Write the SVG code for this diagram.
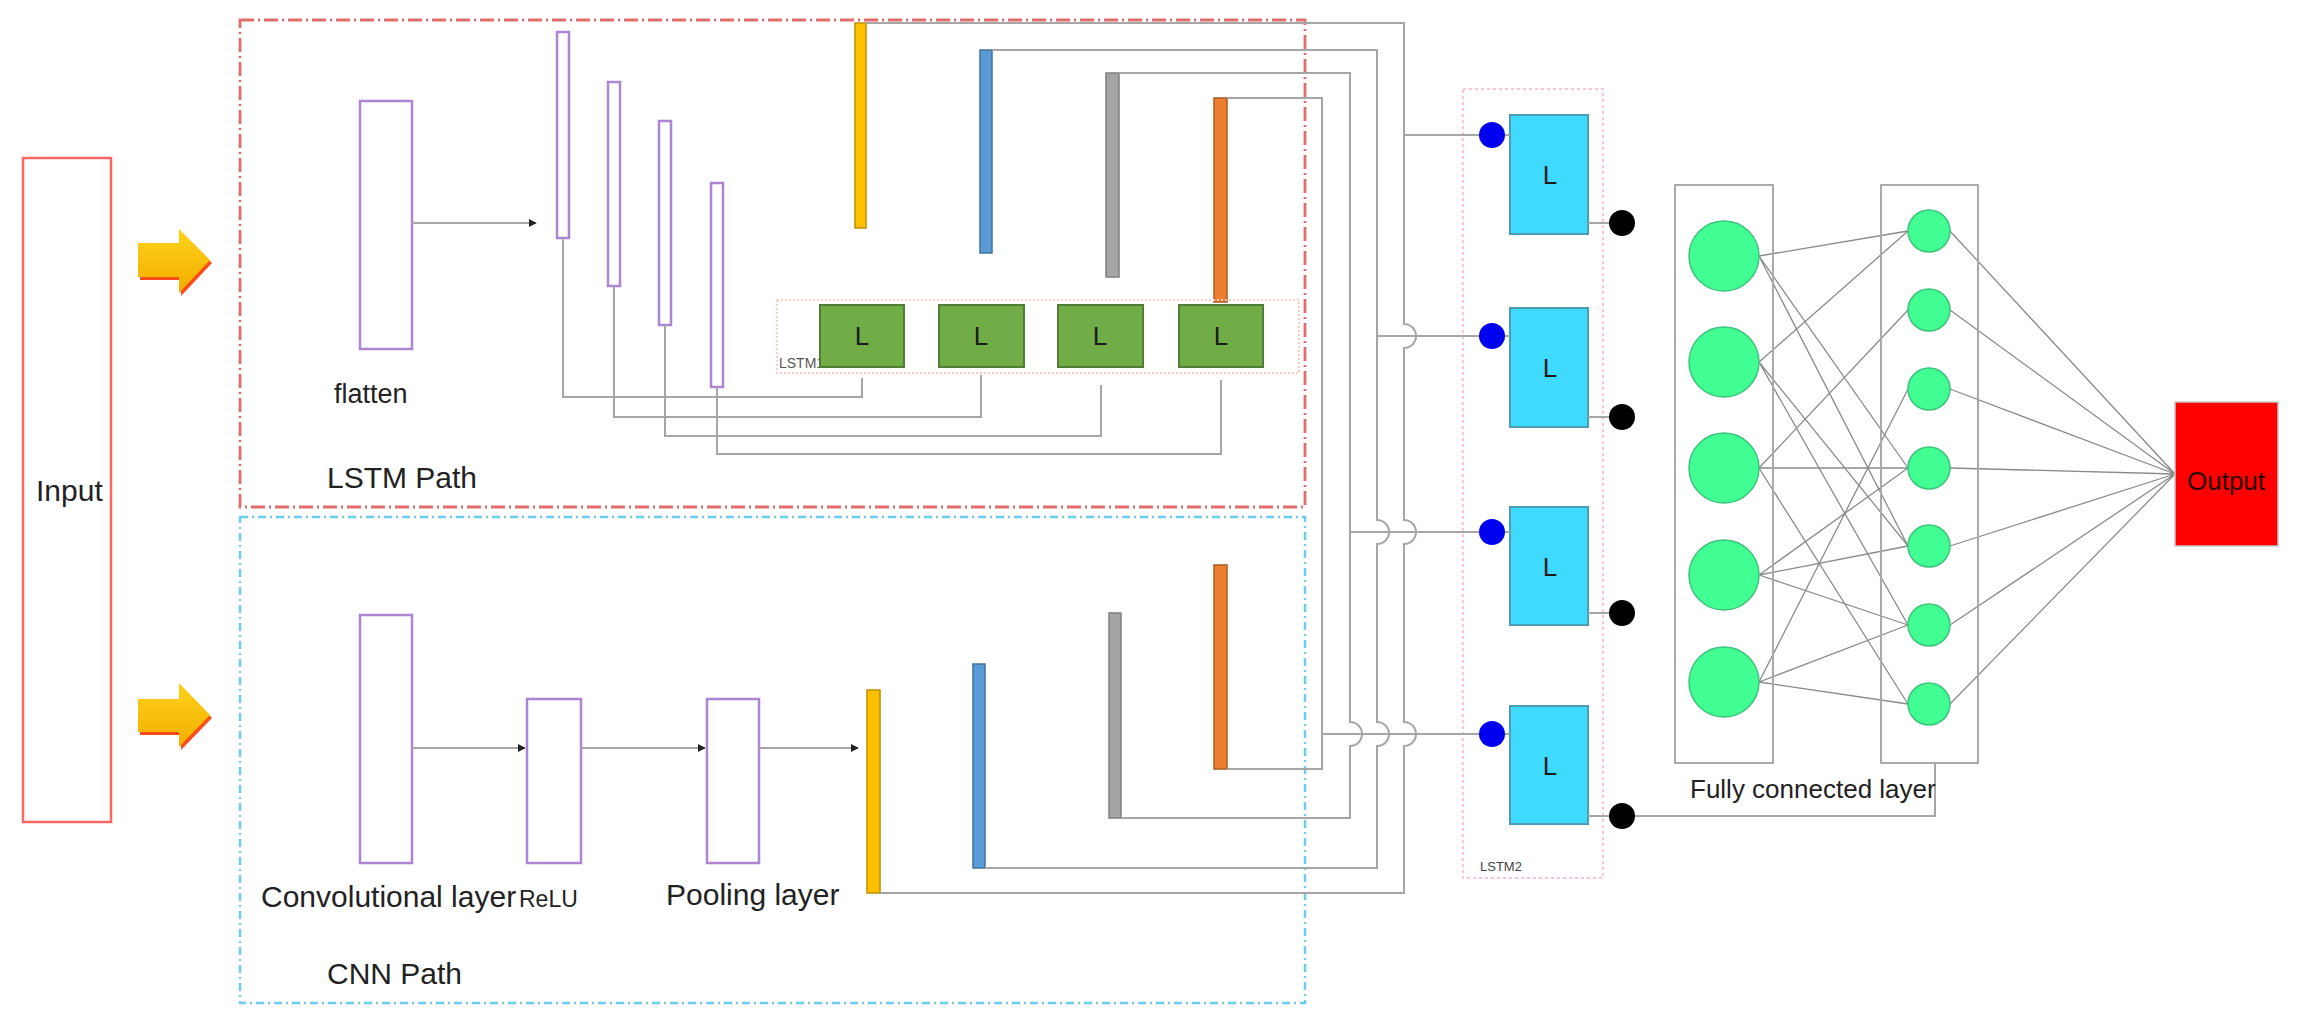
<svg xmlns="http://www.w3.org/2000/svg" width="2298" height="1023" viewBox="0 0 2298 1023">
<defs>
<linearGradient id="gArrow" x1="0" y1="0" x2="0" y2="1">
<stop offset="0" stop-color="#FFD21A"/>
<stop offset="1" stop-color="#F2AE00"/>
</linearGradient>
<marker id="ah" viewBox="0 0 10 10" refX="9" refY="5" markerWidth="4" markerHeight="4" orient="auto">
<path d="M0,0 L10,5 L0,10 z" fill="#222"/>
</marker>
<style>
text{font-family:"Liberation Sans",Arial,sans-serif;fill:#222}
.lbl{font-size:30px}
.conn{fill:none;stroke:#A6A6A6;stroke-width:2}
.fc{fill:none;stroke:#8A8A8A;stroke-width:1.3}
.purple{fill:#fff;stroke:#AD85D3;stroke-width:2.5}
.green{fill:#70AD47;stroke:#507E32;stroke-width:2}
.cyan{fill:#3FDAFF;stroke:#4A9DB5;stroke-width:2}
.big{fill:#42FF93;stroke:#3CC47C;stroke-width:1.5}
.small{fill:#42FF93;stroke:#3CC47C;stroke-width:1.5}
.fcbox{fill:none;stroke:#AAAAAA;stroke-width:2}
.L{font-size:26px;text-anchor:middle;fill:#1a1a1a}
</style>
</defs>
<rect width="2298" height="1023" fill="#fff"/>

<!-- path frames -->
<g id="lstm-path-frame">
<rect x="240" y="20" width="1065" height="487" fill="none" stroke="#E36C6C" stroke-width="2.8" stroke-dasharray="14,4,2,4"/>
<text class="lbl" x="327" y="488">LSTM Path</text>
</g>
<g id="cnn-path-frame">
<rect x="240" y="517" width="1065" height="486" fill="none" stroke="#6CCDF0" stroke-width="2.5" stroke-dasharray="8,4,2,4"/>
<text class="lbl" x="327" y="984">CNN Path</text>
</g>

<!-- Input -->
<g id="input">
<rect x="23" y="158" width="88" height="664" fill="#fff" stroke="#FF6666" stroke-width="2.5"/>
<text class="lbl" x="36" y="501">Input</text>
</g>

<!-- arrows -->
<g id="arrow-top">
<path d="M140,246 H181 V232 L212,263 L181,296 V280 H140 z" fill="#FF4A1A"/>
<path d="M138,243 H179 V229 L210,260 L179,293 V277 H138 z" fill="url(#gArrow)"/>
</g>
<g id="arrow-bottom">
<path d="M140,702 H181 V686 L212,718 L181,750 V735 H140 z" fill="#FF4A1A"/>
<path d="M138,699 H179 V683 L210,715 L179,747 V732 H138 z" fill="url(#gArrow)"/>
</g>

<!-- LSTM path nodes -->
<g id="flatten">
<rect class="purple" x="360" y="101" width="52" height="248"/>
<text x="334" y="403" style="font-size:27px">flatten</text>
</g>
<g id="lstm-bar1"><rect class="purple" x="557" y="32" width="12" height="206"/></g>
<g id="lstm-bar2"><rect class="purple" x="608" y="82" width="12" height="204"/></g>
<g id="lstm-bar3"><rect class="purple" x="659" y="121" width="12" height="204"/></g>
<g id="lstm-bar4"><rect class="purple" x="711" y="183" width="12" height="204"/></g>

<g id="lstm-yellow"><rect x="855" y="23" width="11" height="205" fill="#FFC000" stroke="#BF9000" stroke-width="1.5"/></g>
<g id="lstm-blue"><rect x="980" y="50" width="12" height="203" fill="#5B9BD5" stroke="#41719C" stroke-width="1.5"/></g>
<g id="lstm-gray"><rect x="1106" y="73" width="13" height="204" fill="#A5A5A5" stroke="#7F7F7F" stroke-width="1.5"/></g>
<g id="lstm-orange"><rect x="1214" y="98" width="13" height="204" fill="#ED7D31" stroke="#AE5A21" stroke-width="1.5"/></g>

<g id="lstm1">
<rect x="777" y="300" width="522" height="73" fill="none" stroke="#FFCDBD" stroke-width="2" stroke-dasharray="2,2"/>
<text x="779" y="368" style="font-size:14px;fill:#555">LSTM1</text>
<rect class="green" x="820" y="305" width="84" height="62"/>
<text class="L" x="862" y="345">L</text>
<rect class="green" x="939" y="305" width="85" height="62"/>
<text class="L" x="981" y="345">L</text>
<rect class="green" x="1058" y="305" width="85" height="62"/>
<text class="L" x="1100" y="345">L</text>
<rect class="green" x="1179" y="305" width="84" height="62"/>
<text class="L" x="1221" y="345">L</text>
</g>

<!-- CNN path nodes -->
<g id="conv">
<rect class="purple" x="360" y="615" width="52" height="248"/>
<text class="lbl" x="261" y="907">Convolutional layer</text>
</g>
<g id="relu">
<rect class="purple" x="527" y="699" width="54" height="164"/>
<text x="519" y="907" style="font-size:23px">ReLU</text>
</g>
<g id="pooling">
<rect class="purple" x="707" y="699" width="52" height="164"/>
<text class="lbl" x="666" y="905">Pooling layer</text>
</g>
<g id="cnn-yellow"><rect x="867" y="690" width="13" height="203" fill="#FFC000" stroke="#BF9000" stroke-width="1.5"/></g>
<g id="cnn-blue"><rect x="973" y="664" width="12" height="204" fill="#5B9BD5" stroke="#41719C" stroke-width="1.5"/></g>
<g id="cnn-gray"><rect x="1109" y="613" width="12" height="205" fill="#A5A5A5" stroke="#7F7F7F" stroke-width="1.5"/></g>
<g id="cnn-orange"><rect x="1214" y="565" width="13" height="204" fill="#ED7D31" stroke="#AE5A21" stroke-width="1.5"/></g>

<!-- LSTM2 -->
<g id="lstm2">
<rect x="1463" y="89" width="140" height="789" fill="none" stroke="#FFB3C9" stroke-width="1.5" stroke-dasharray="3,3"/>
<text x="1480" y="871" style="font-size:13px;fill:#444">LSTM2</text>
</g>
<g id="lstm2-cell1">
<rect class="cyan" x="1510" y="115" width="78" height="119"/>
<text class="L" x="1550" y="184">L</text>
<circle cx="1492" cy="135" r="13" fill="#0000F0"/>
<circle cx="1622" cy="223" r="13" fill="#000"/>
</g>
<g id="lstm2-cell2">
<rect class="cyan" x="1510" y="308" width="78" height="119"/>
<text class="L" x="1550" y="377">L</text>
<circle cx="1492" cy="336" r="13" fill="#0000F0"/>
<circle cx="1622" cy="417" r="13" fill="#000"/>
</g>
<g id="lstm2-cell3">
<rect class="cyan" x="1510" y="507" width="78" height="118"/>
<text class="L" x="1550" y="576">L</text>
<circle cx="1492" cy="532" r="13" fill="#0000F0"/>
<circle cx="1622" cy="613" r="13" fill="#000"/>
</g>
<g id="lstm2-cell4">
<rect class="cyan" x="1510" y="706" width="78" height="118"/>
<text class="L" x="1550" y="775">L</text>
<circle cx="1492" cy="734" r="13" fill="#0000F0"/>
<circle cx="1622" cy="816" r="13" fill="#000"/>
</g>

<!-- connectors -->
<g id="connectors">
<path class="conn" d="M412,223 H536" marker-end="url(#ah)"/>
<path class="conn" d="M563,238 V397 H862 V378"/>
<path class="conn" d="M614,286 V417 H981 V375"/>
<path class="conn" d="M665,325 V436 H1101 V385"/>
<path class="conn" d="M717,387 V454 H1221 V380"/>
<path class="conn" d="M412,748 H525" marker-end="url(#ah)"/>
<path class="conn" d="M581,748 H705" marker-end="url(#ah)"/>
<path class="conn" d="M759,748 H858" marker-end="url(#ah)"/>

<path class="conn" d="M866,23 H1404 V324 A12,12 0 0 1 1404,348 V520 A12,12 0 0 1 1404,544 V722 A12,12 0 0 1 1404,746 V893 H880"/>
<path class="conn" d="M992,50 H1377 V520 A12,12 0 0 1 1377,544 V722 A12,12 0 0 1 1377,746 V868 H985"/>
<path class="conn" d="M1119,73 H1350 V722 A12,12 0 0 1 1350,746 V818 H1121"/>
<path class="conn" d="M1227,98 H1322 V769 H1227"/>
<path class="conn" d="M1404,135 H1479"/>
<path class="conn" d="M1377,336 H1479"/>
<path class="conn" d="M1350,532 H1479"/>
<path class="conn" d="M1322,734 H1479"/>
<path class="conn" d="M1505,135 H1510 M1505,336 H1510 M1505,532 H1510 M1505,734 H1510"/>
<path class="conn" d="M1588,223 H1609 M1588,417 H1609 M1588,613 H1609 M1588,816 H1609"/>
<path class="conn" d="M1635,816 H1935 V763"/>

<!-- fully connected links -->
<path class="fc" d="M1759,256 L1908,231 M1759,256 L1908,468 M1759,256 L1908,546"/>
<path class="fc" d="M1759,362 L1908,231 M1759,362 L1908,546 M1759,362 L1908,625"/>
<path class="fc" d="M1759,468 L1908,310 M1759,468 L1908,468 M1759,468 L1908,704"/>
<path class="fc" d="M1759,575 L1908,468 M1759,575 L1908,546 M1759,575 L1908,625"/>
<path class="fc" d="M1759,682 L1908,389 M1759,682 L1908,625 M1759,682 L1908,704"/>
<path class="fc" d="M1950,231 L2175,474 M1950,310 L2175,474 M1950,389 L2175,474 M1950,468 L2175,474 M1950,546 L2175,474 M1950,625 L2175,474 M1950,704 L2175,474"/>
</g>

<!-- fully connected layer -->
<g id="fc-layer1">
<rect class="fcbox" x="1675" y="185" width="98" height="578"/>
<circle class="big" cx="1724" cy="256" r="35"/>
<circle class="big" cx="1724" cy="362" r="35"/>
<circle class="big" cx="1724" cy="468" r="35"/>
<circle class="big" cx="1724" cy="575" r="35"/>
<circle class="big" cx="1724" cy="682" r="35"/>
</g>
<g id="fc-layer2">
<rect class="fcbox" x="1881" y="185" width="97" height="578"/>
<circle class="small" cx="1929" cy="231" r="21"/>
<circle class="small" cx="1929" cy="310" r="21"/>
<circle class="small" cx="1929" cy="389" r="21"/>
<circle class="small" cx="1929" cy="468" r="21"/>
<circle class="small" cx="1929" cy="546" r="21"/>
<circle class="small" cx="1929" cy="625" r="21"/>
<circle class="small" cx="1929" cy="704" r="21"/>
</g>
<g id="fc-label">
<text x="1690" y="798" style="font-size:26px">Fully connected layer</text>
</g>

<g id="output">
<rect x="2175" y="402" width="103" height="144" fill="#FF0000" stroke="#C8C8C8" stroke-width="1.5"/>
<text x="2226" y="490" style="font-size:26px;text-anchor:middle;fill:#2a0000">Output</text>
</g>
</svg>
